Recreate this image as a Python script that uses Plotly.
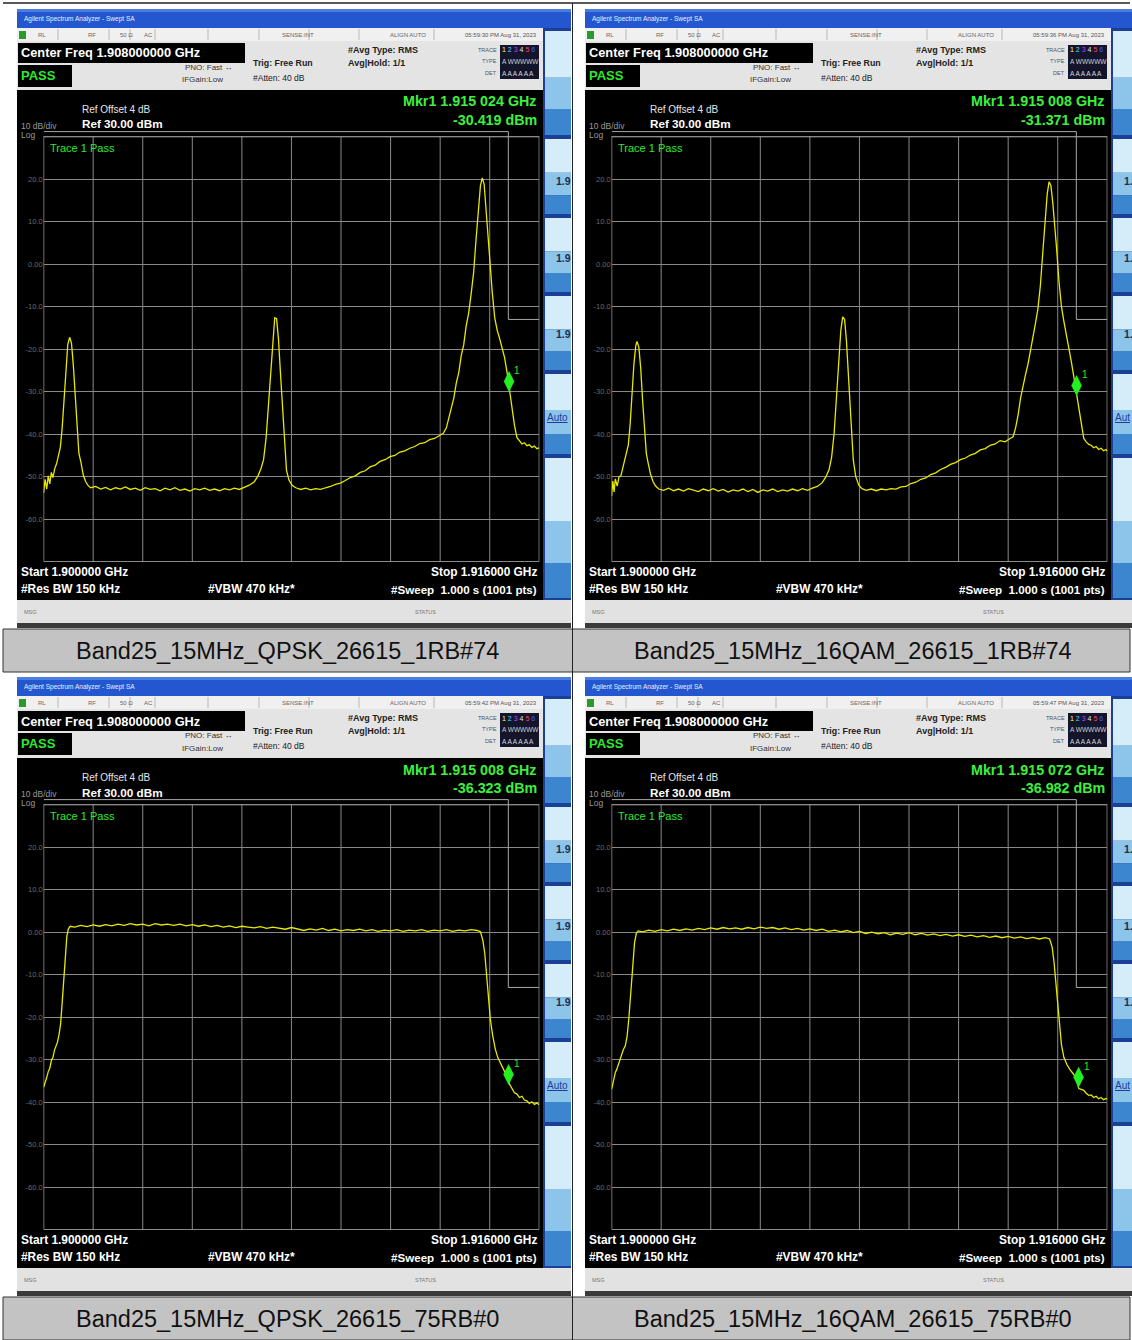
import plotly.graph_objects as go

W, H = 1132, 1340

# ---------------- data ----------------
START_MHZ, STOP_MHZ = 1900.0, 1916.0
REF_DBM, DB_DIV, N_DIV = 30.0, 10.0, 10
Y_TICKS = [30, 20, 10, 0, -10, -20, -30, -40, -50, -60]
Y_TICK_TEXT = ["", "20.0", "10.0", "0.00", "-10.0", "-20.0", "-30.0", "-40.0", "-50.0", "-60.0"]

LIMIT_FREQ = [1900.0, 1915.0, 1915.0, 1916.0]
LIMIT_DBM = [31.2, 31.2, -13.0, -13.0]

captions = ["Band25_15MHz_QPSK_26615_1RB#74", "Band25_15MHz_16QAM_26615_1RB#74",
            "Band25_15MHz_QPSK_26615_75RB#0", "Band25_15MHz_16QAM_26615_75RB#0"]
timestamps = ["05:59:30 PM Aug 31, 2023", "05:59:36 PM Aug 31, 2023",
              "05:59:42 PM Aug 31, 2023", "05:59:47 PM Aug 31, 2023"]
marker_freq_ghz = [1.915024, 1.915008, 1.915008, 1.915072]
marker_dbm = [-30.419, -31.371, -36.323, -36.982]

# Trace: QPSK 1RB#74 (MHz, dBm)
tl_freq = [1900.00, 1900.05, 1900.10, 1900.15, 1900.20, 1900.25, 1900.30, 1900.36, 1900.42, 1900.48,
           1900.54, 1900.60, 1900.66, 1900.72, 1900.78, 1900.84, 1900.90, 1900.96, 1901.02, 1901.08,
           1901.14, 1901.20, 1901.28, 1901.36, 1901.44, 1901.52, 1901.68, 1901.84, 1902.00, 1902.16,
           1902.32, 1902.48, 1902.64, 1902.80, 1902.96, 1903.12, 1903.28, 1903.44, 1903.60, 1903.76,
           1903.92, 1904.08, 1904.24, 1904.40, 1904.56, 1904.72, 1904.88, 1905.04, 1905.20, 1905.36,
           1905.52, 1905.68, 1905.84, 1906.00, 1906.16, 1906.32, 1906.48, 1906.64, 1906.80, 1906.92,
           1907.02, 1907.10, 1907.18, 1907.26, 1907.34, 1907.40, 1907.46, 1907.52, 1907.58, 1907.64,
           1907.72, 1907.78, 1907.84, 1907.92, 1908.02, 1908.14, 1908.30, 1908.46, 1908.62, 1908.78,
           1908.94, 1909.10, 1909.26, 1909.42, 1909.58, 1909.74, 1909.90, 1910.06, 1910.22, 1910.38,
           1910.54, 1910.70, 1910.86, 1911.02, 1911.18, 1911.34, 1911.50, 1911.66, 1911.82, 1911.98,
           1912.14, 1912.30, 1912.46, 1912.62, 1912.78, 1912.90, 1913.00, 1913.08, 1913.16, 1913.24,
           1913.32, 1913.40, 1913.48, 1913.56, 1913.64, 1913.72, 1913.80, 1913.88, 1913.96, 1914.04,
           1914.10, 1914.16, 1914.22, 1914.28, 1914.34, 1914.40, 1914.48, 1914.56, 1914.64, 1914.72,
           1914.80, 1914.88, 1914.96, 1915.04, 1915.12, 1915.20, 1915.28, 1915.36, 1915.44, 1915.52,
           1915.60, 1915.68, 1915.76, 1915.84, 1915.92, 1916.00]
tl_dbm = [-53.8, -50.6, -52.9, -49.8, -51.7, -49.0, -50.2, -48.1, -46.9, -45.2,
          -43.1, -38.5, -31.0, -23.5, -18.9, -17.2, -18.6, -23.8, -31.5, -39.5,
          -44.6, -46.4, -49.6, -51.2, -52.1, -52.6, -52.3, -52.9, -52.5, -53.1,
          -52.6, -52.9, -52.4, -53.0, -52.7, -53.2, -52.6, -53.0, -52.8, -53.3,
          -52.7, -53.1, -52.6, -53.2, -52.9, -53.4, -52.8, -53.1, -52.7, -53.2,
          -52.9, -53.3, -52.8, -53.1, -52.7, -53.0, -52.5, -52.0, -51.2, -49.8,
          -48.0, -46.0, -41.0, -33.0, -24.0, -17.0, -12.6, -12.8, -17.5, -25.0,
          -35.0, -42.0, -48.5, -50.8, -52.0, -52.6, -53.0, -52.7, -53.1, -52.8,
          -53.0, -52.6, -52.3, -51.8, -51.5, -50.9, -50.2, -49.8, -49.0, -48.6,
          -47.7, -47.3, -46.4, -46.0, -45.3, -45.0, -44.2, -43.9, -43.3, -42.9,
          -42.2, -42.0, -41.3, -41.0, -40.2, -39.8, -38.5, -36.0, -33.5, -31.5,
          -28.0, -25.5, -21.5, -19.0, -14.5, -11.5, -7.0, -2.0, 6.0, 14.0,
          18.5, 20.3, 18.8, 13.0, 6.5, 0.5, -6.5, -12.5, -15.5, -17.5,
          -19.5, -22.0, -25.5, -29.8, -34.5, -38.0, -40.8, -41.6, -42.3, -42.0,
          -42.7, -42.5, -43.1, -42.8, -43.4, -43.2]

# Trace: 16QAM 1RB#74
tr_freq = [1900.00, 1900.04, 1900.08, 1900.12, 1900.18, 1900.24, 1900.30, 1900.36, 1900.42, 1900.48,
           1900.54, 1900.60, 1900.66, 1900.72, 1900.78, 1900.82, 1900.88, 1900.94, 1901.00, 1901.06,
           1901.12, 1901.18, 1901.26, 1901.34, 1901.42, 1901.52, 1901.68, 1901.84, 1902.00, 1902.16,
           1902.32, 1902.48, 1902.64, 1902.80, 1902.96, 1903.12, 1903.28, 1903.44, 1903.60, 1903.76,
           1903.92, 1904.08, 1904.24, 1904.40, 1904.56, 1904.72, 1904.88, 1905.04, 1905.20, 1905.36,
           1905.52, 1905.68, 1905.84, 1906.00, 1906.16, 1906.32, 1906.48, 1906.64, 1906.80, 1906.92,
           1907.02, 1907.10, 1907.18, 1907.26, 1907.34, 1907.40, 1907.46, 1907.52, 1907.58, 1907.64,
           1907.72, 1907.80, 1907.88, 1907.98, 1908.08, 1908.22, 1908.38, 1908.54, 1908.70, 1908.86,
           1909.02, 1909.18, 1909.34, 1909.50, 1909.66, 1909.82, 1909.98, 1910.14, 1910.30, 1910.46,
           1910.62, 1910.78, 1910.94, 1911.10, 1911.26, 1911.42, 1911.58, 1911.74, 1911.90, 1912.06,
           1912.22, 1912.38, 1912.54, 1912.70, 1912.86, 1912.96, 1913.04, 1913.12, 1913.20, 1913.28,
           1913.36, 1913.44, 1913.52, 1913.60, 1913.68, 1913.76, 1913.84, 1913.92, 1914.00, 1914.06,
           1914.12, 1914.18, 1914.24, 1914.30, 1914.36, 1914.44, 1914.52, 1914.60, 1914.68, 1914.76,
           1914.84, 1914.92, 1915.00, 1915.08, 1915.16, 1915.24, 1915.32, 1915.40, 1915.48, 1915.56,
           1915.64, 1915.72, 1915.80, 1915.88, 1915.96, 1916.00]
tr_dbm = [-54.5, -51.0, -53.6, -50.5, -52.2, -50.0, -49.8, -48.0, -46.0, -44.5,
          -42.5, -37.5, -30.0, -23.5, -19.2, -18.2, -19.5, -24.5, -32.0, -39.0,
          -44.5, -46.8, -49.5, -51.2, -52.2, -52.9, -53.2, -52.7, -53.3, -52.9,
          -53.4, -52.8, -53.1, -53.5, -52.9, -53.3, -52.8, -53.4, -53.0, -53.6,
          -53.1, -53.4, -52.9, -53.5, -53.0, -53.7, -53.1, -53.4, -52.9, -53.5,
          -53.1, -53.4, -52.9, -53.3, -52.8, -53.2, -52.7, -52.3, -51.4, -50.0,
          -48.3, -45.5, -40.0, -31.5, -22.0, -15.5, -12.4, -13.0, -18.0, -26.0,
          -37.0, -46.0, -50.0, -52.0, -52.8, -53.2, -52.9, -53.3, -52.9, -53.1,
          -52.8, -52.9, -52.4, -52.3, -51.6, -51.3, -50.6, -50.3, -49.5, -49.1,
          -48.3, -47.8, -47.1, -46.7, -46.0, -45.6, -44.9, -44.5, -43.7, -43.4,
          -42.6, -42.3, -41.5, -41.8, -41.0, -40.6, -38.5, -35.5, -31.5, -28.5,
          -26.0, -23.5, -20.5, -17.5, -14.0, -10.5, -5.0, 3.0, 11.5, 16.5,
          19.4, 18.5, 14.5, 10.0, 4.0, -4.0, -10.0, -13.5, -16.5, -20.0,
          -23.0, -26.5, -30.0, -33.5, -37.5, -41.0, -41.8, -42.4, -42.6, -43.2,
          -42.9, -43.6, -43.3, -43.9, -43.6, -44.0]

# Trace: QPSK 75RB#0
bl_freq = [1900.00, 1900.05, 1900.10, 1900.15, 1900.20, 1900.25, 1900.30, 1900.35, 1900.40, 1900.45,
           1900.50, 1900.55, 1900.60, 1900.65, 1900.70, 1900.75, 1900.80, 1900.86, 1901.00, 1901.20,
           1901.40, 1901.60, 1901.80, 1902.00, 1902.20, 1902.40, 1902.60, 1902.80, 1903.00, 1903.20,
           1903.40, 1903.60, 1903.80, 1904.00, 1904.20, 1904.40, 1904.60, 1904.80, 1905.00, 1905.20,
           1905.40, 1905.60, 1905.80, 1906.00, 1906.20, 1906.40, 1906.60, 1906.80, 1907.00, 1907.20,
           1907.40, 1907.60, 1907.80, 1908.00, 1908.20, 1908.40, 1908.60, 1908.80, 1909.00, 1909.20,
           1909.40, 1909.60, 1909.80, 1910.00, 1910.20, 1910.40, 1910.60, 1910.80, 1911.00, 1911.20,
           1911.40, 1911.60, 1911.80, 1912.00, 1912.20, 1912.40, 1912.60, 1912.80, 1913.00, 1913.20,
           1913.40, 1913.60, 1913.80, 1914.00, 1914.10, 1914.18, 1914.24, 1914.30, 1914.36, 1914.42,
           1914.50, 1914.58, 1914.66, 1914.76, 1914.86, 1914.96, 1915.04, 1915.12, 1915.20, 1915.28,
           1915.36, 1915.44, 1915.52, 1915.60, 1915.68, 1915.76, 1915.84, 1915.92, 1916.00]
bl_dbm = [-36.5, -35.0, -34.2, -32.8, -32.0, -30.2, -29.5, -27.8, -27.0, -25.8,
          -24.0, -21.5, -16.5, -10.5, -5.0, -1.0, 0.8, 1.4, 1.2, 1.6,
          1.3, 1.7, 1.4, 1.8, 1.5, 1.9, 1.6, 2.0, 1.7, 1.9,
          1.5, 2.0, 1.7, 1.9, 1.6, 1.9, 1.5, 1.8, 1.4, 1.7,
          1.3, 1.6, 1.2, 1.5, 1.1, 1.4, 1.2, 1.0, 1.3, 0.9,
          1.2, 1.0, 0.7, 1.1, 0.8, 0.4, 0.8, 0.5, 0.9, 0.4,
          0.7, 0.3, 0.6, 0.4, 0.7, 0.3, 0.6, 0.2, 0.5, 0.3,
          0.6, 0.2, 0.5, 0.3, 0.6, 0.2, 0.5, 0.3, 0.6, 0.2,
          0.5, 0.3, 0.6, 0.4, 0.1, -2.0, -5.0, -10.5, -15.5, -20.5,
          -24.5, -27.5, -29.5, -31.0, -32.5, -34.0, -35.8, -36.7, -37.8, -38.1,
          -38.9, -38.6, -39.5, -39.7, -40.3, -39.9, -40.5, -40.2, -40.6]

# Trace: 16QAM 75RB#0
br_freq = [1900.00, 1900.04, 1900.08, 1900.12, 1900.16, 1900.20, 1900.26, 1900.32, 1900.38, 1900.44,
           1900.50, 1900.56, 1900.62, 1900.68, 1900.74, 1900.80, 1900.86, 1901.00, 1901.20, 1901.40,
           1901.60, 1901.80, 1902.00, 1902.20, 1902.40, 1902.60, 1902.80, 1903.00, 1903.20, 1903.40,
           1903.60, 1903.80, 1904.00, 1904.20, 1904.40, 1904.60, 1904.80, 1905.00, 1905.20, 1905.40,
           1905.60, 1905.80, 1906.00, 1906.20, 1906.40, 1906.60, 1906.80, 1907.00, 1907.20, 1907.40,
           1907.60, 1907.80, 1908.00, 1908.20, 1908.40, 1908.60, 1908.80, 1909.00, 1909.20, 1909.40,
           1909.60, 1909.80, 1910.00, 1910.20, 1910.40, 1910.60, 1910.80, 1911.00, 1911.20, 1911.40,
           1911.60, 1911.80, 1912.00, 1912.20, 1912.40, 1912.60, 1912.80, 1913.00, 1913.20, 1913.40,
           1913.60, 1913.80, 1914.00, 1914.14, 1914.22, 1914.28, 1914.34, 1914.40, 1914.46, 1914.52,
           1914.60, 1914.70, 1914.80, 1914.90, 1915.00, 1915.08, 1915.16, 1915.24, 1915.32, 1915.40,
           1915.48, 1915.56, 1915.64, 1915.72, 1915.80, 1915.88, 1915.96, 1916.00]
br_dbm = [-37.0, -35.5, -34.6, -33.0, -32.4, -31.5, -30.6, -29.0, -27.6, -26.8,
          -24.5, -20.0, -13.5, -7.0, -2.5, -0.2, 0.3, 0.1, 0.5, 0.2,
          0.6, 0.3, 0.7, 0.4, 0.8, 0.5, 0.9, 0.6, 1.0, 0.7,
          1.1, 0.8, 1.0, 0.7, 1.1, 0.8, 1.2, 0.9, 1.1, 0.7,
          1.0, 0.6, 0.9, 0.5, 0.8, 0.4, 0.7, 0.2, 0.5, 0.1,
          0.4, -0.1, 0.2, -0.3, 0.0, -0.4, -0.1, -0.6, -0.2, -0.5,
          -0.1, -0.6, -0.3, -0.7, -0.4, -0.8, -0.5, -0.9, -0.6, -1.0,
          -0.7, -1.1, -0.8, -1.2, -0.9, -1.3, -1.0, -1.4, -1.1, -1.5,
          -1.2, -1.6, -1.3, -1.6, -3.5, -7.0, -12.0, -17.5, -22.5, -26.5,
          -29.5, -31.2, -32.4, -33.3, -34.6, -36.8, -37.0, -37.2, -37.9, -38.4,
          -38.3, -38.9, -38.6, -39.2, -38.9, -39.4, -39.1, -39.3]

trace_freqs = [tl_freq, tr_freq, bl_freq, br_freq]
trace_levels = [tl_dbm, tr_dbm, bl_dbm, br_dbm]

# ---------------- styling / layout helpers ----------------
FONT = "Liberation Sans, Arial, sans-serif"
GREEN = "#3cf03c"
YELLOW = "#e8e800"
GRID = "#8a8a8a"

shapes, annotations = [], []


def P(x):
    return x / W


def Q(y):
    return 1 - y / H


def rect(x0, y0, x1, y1, fill, line=None, lw=0):
    shapes.append(dict(type="rect", xref="paper", yref="paper", x0=P(x0), x1=P(x1), y0=Q(y1), y1=Q(y0),
                       fillcolor=fill, line=dict(width=lw, color=line or fill), layer="below"))


def seg(x0, y0, x1, y1, color, lw=1):
    shapes.append(dict(type="line", xref="paper", yref="paper", x0=P(x0), x1=P(x1), y0=Q(y0), y1=Q(y1),
                       line=dict(width=lw, color=color), layer="below"))


def text(x, y, s, size, color, anchor="left", bold=False):
    annotations.append(dict(xref="paper", yref="paper", x=P(x), y=Q(y), text=f"<b>{s}</b>" if bold else s,
                            showarrow=False, xanchor=anchor, yanchor="middle",
                            font=dict(size=size, color=color, family=FONT)))


# plot-area geometry (left/top panel), in pixels
PX0, PX1 = 43.6, 539.3
PY_TOP, PY_BOT = 136.7, 561.7   # y of REF (30 dBm) and of REF - 10 div
Y_MAX = 31.6
px_per_db = (PY_BOT - PY_TOP) / (N_DIV * DB_DIV)
offsets = [(0, 0), (568, 0), (0, 668), (568, 668)]

seg(3, 3, 1130, 3, "#222222", 1.5)

fig = go.Figure()
layout_axes = {}

for i, (dx, dy) in enumerate(offsets):
    right = dx > 0
    # --- screenshot chrome ---
    rect(17 + dx, 9 + dy, 571 + dx, 28 + dy, "#2457cf")
    rect(17 + dx, 9 + dy, 571 + dx, 12 + dy, "#4a7ee0")
    text(22 + dx, 19 + dy, "Agilent Spectrum Analyzer - Swept SA", 6.5, "#e8f0ff")
    rect(17 + dx, 28 + dy, 543 + dx, 41 + dy, "#f0f0f0")
    rect(19 + dx, 31 + dy, 26 + dx, 39 + dy, "#2a9a2a")
    for sx in [58, 109, 130, 155, 208, 259, 309, 359, 434]:
        seg(sx + dx, 29 + dy, sx + dx, 40 + dy, "#b8b8b8", 1)
    for sx, s in [(36, "RL"), (86, "RF"), (118, "50 Ω"), (142, "AC"), (280, "SENSE:INT"), (388, "ALIGN AUTO")]:
        text(sx + dx, 35 + dy, s, 6, "#666666")
    text(539 + dx, 35 + dy, timestamps[i], 6, "#555555", anchor="right")
    rect(17 + dx, 41 + dy, 543 + dx, 90 + dy, "#e4e4e4")
    rect(18 + dx, 43 + dy, 245 + dx, 63 + dy, "#000000")
    rect(18 + dx, 65 + dy, 72 + dx, 87 + dy, "#000000")
    text(19 + dx, 53 + dy, "Center Freq 1.908000000 GHz", 12.8, "#ffffff", bold=True)
    text(19 + dx, 75.5 + dy, "PASS", 13, "#2ee82e", bold=True)
    text(183 + dx, 67 + dy, "PNO: Fast ↔", 8, "#333333")
    text(180 + dx, 80 + dy, "IFGain:Low", 8, "#333333")
    text(251 + dx, 63 + dy, "Trig: Free Run", 8.8, "#222222", bold=True)
    text(251 + dx, 78 + dy, "#Atten: 40 dB", 8.5, "#222222")
    text(346 + dx, 50 + dy, "#Avg Type: RMS", 9, "#222222", bold=True)
    text(346 + dx, 63 + dy, "Avg|Hold: 1/1", 9, "#222222", bold=True)
    rect(500 + dx, 45 + dy, 539 + dx, 79 + dy, "#14142a")
    for yy, lab in [(50, "TRACE"), (61, "TYPE"), (73, "DET")]:
        text(499 + dx, yy + dy, lab, 5.5, "#555555", anchor="right")
    text(500 + dx, 50 + dy, '<span style="color:#ffff40">1</span> <span style="color:#40e0ff">2</span> '
                            '<span style="color:#c040ff">3</span> <span style="color:#e0e0e0">4</span> '
                            '<span style="color:#ff4060">5</span> <span style="color:#4060ff">6</span>', 7, "#ffffff")
    text(500 + dx, 61 + dy, "A WWWWW", 6.5, "#cfcfcf")
    text(500 + dx, 73 + dy, "A A A A A A", 6.5, "#dcdcdc")

    # black screen
    rect(17 + dx, 90 + dy, 543 + dx, 600 + dy, "#000000")

    # softkeys
    rect(543 + dx, 28 + dy, 571 + dx, 600 + dy, "#1b3f94")
    for (b0, b1) in [(31, 135), (139, 214), (218, 292), (296, 370), (374, 454), (458, 598)]:
        h = b1 - b0
        rect(545 + dx, b0 + dy, 571 + dx, b0 + 0.45 * h + dy, "#d4edf8")
        rect(545 + dx, b0 + 0.45 * h + dy, 571 + dx, b0 + 0.75 * h + dy, "#8cc4ea")
        rect(545 + dx, b0 + 0.75 * h + dy, 571 + dx, b1 + dy, "#3b86cf")
    for yy in [181, 258, 334]:
        text(554 + dx, yy + dy, "1." if right else "1.9", 10.5, "#1e2d50", bold=True)
    text(545 + dx, 417 + dy, "<u>Aut</u>" if right else "<u>Auto</u>", 10, "#1f3c9c")

    # msg bar
    rect(17 + dx, 600 + dy, 571 + dx, 623 + dy, "#e2e2e2")
    rect(17 + dx, 623 + dy, 571 + dx, 628 + dy, "#3a3a3a")
    text(22 + dx, 612 + dy, "MSG", 5.5, "#777777")
    text(413 + dx, 612 + dy, "STATUS", 5.5, "#777777")

    # black-area texts
    mf = f"{marker_freq_ghz[i]:.6f}"
    text(539 + dx, 101.5 + dy, f"Mkr1 {mf[:5]} {mf[5:]} GHz", 14.3, GREEN, anchor="right", bold=True)
    text(539 + dx, 120 + dy, f"{marker_dbm[i]:.3f} dBm", 14.3, GREEN, anchor="right", bold=True)
    text(80 + dx, 109.5 + dy, "Ref Offset 4 dB", 10, "#e6e6e6")
    text(19 + dx, 126 + dy, "10 dB/div", 8.5, "#9a9a9a")
    text(80 + dx, 124 + dy, f"Ref {REF_DBM:.2f} dBm", 11.7, "#ffffff", bold=True)
    text(19 + dx, 134.5 + dy, "Log", 8.5, "#9a9a9a")
    text(48 + dx, 148 + dy, "Trace 1 Pass", 11, "#2ee82e")
    text(19 + dx, 571.5 + dy, f"Start {START_MHZ / 1000:.6f} GHz", 11.9, "#ffffff", bold=True)
    text(539 + dx, 571.5 + dy, f"Stop {STOP_MHZ / 1000:.6f} GHz", 11.9, "#ffffff", anchor="right", bold=True)
    text(19 + dx, 589 + dy, "#Res BW 150 kHz", 11.9, "#ffffff", bold=True)
    text(206 + dx, 589 + dy, "#VBW 470 kHz*", 11.9, "#ffffff", bold=True)
    text(539 + dx, 589 + dy, "#Sweep  1.000 s (1001 pts)", 11.6, "#ffffff", anchor="right", bold=True)

    # --- subplot axes ---
    n = "" if i == 0 else str(i + 1)
    xd = [P(PX0 + dx), P(PX1 + dx)]
    y_top_px = PY_TOP - (Y_MAX - REF_DBM) * px_per_db + dy
    yd = [Q(PY_BOT + dy), Q(y_top_px)]
    y_min = REF_DBM - N_DIV * DB_DIV
    layout_axes[f"xaxis{n}"] = dict(domain=xd, range=[START_MHZ, STOP_MHZ], showgrid=False, zeroline=False,
                                    showticklabels=False, showline=False, fixedrange=True, anchor=f"y{n}")
    layout_axes[f"yaxis{n}"] = dict(domain=yd, range=[y_min, Y_MAX], tickvals=Y_TICKS, ticktext=Y_TICK_TEXT,
                                    showgrid=True, gridcolor=GRID, gridwidth=1, zeroline=False, showline=False,
                                    ticks="", tickfont=dict(size=7.5, color="#6a6a6a", family=FONT),
                                    fixedrange=True, anchor=f"x{n}")
    xr, yr = f"x{n}", f"y{n}"
    step = (STOP_MHZ - START_MHZ) / N_DIV
    for k in range(1, N_DIV):
        f = START_MHZ + k * step
        shapes.append(dict(type="line", xref=xr, yref=yr, x0=f, x1=f, y0=y_min, y1=REF_DBM,
                           line=dict(color=GRID, width=1), layer="below"))
    shapes.append(dict(type="rect", xref=xr, yref=yr, x0=START_MHZ, x1=STOP_MHZ, y0=y_min, y1=REF_DBM,
                       line=dict(color="#b8b8b8", width=1.2), fillcolor="rgba(0,0,0,0)", layer="below"))

    # limit line
    fig.add_trace(go.Scatter(x=LIMIT_FREQ, y=LIMIT_DBM, mode="lines", line=dict(color="#a8a8a8", width=1),
                             xaxis=xr, yaxis=yr, showlegend=False, hoverinfo="skip"))
    # spectrum trace
    fig.add_trace(go.Scatter(x=trace_freqs[i], y=trace_levels[i], mode="lines",
                             line=dict(color=YELLOW, width=1.3), xaxis=xr, yaxis=yr, showlegend=False))
    # marker
    mx = marker_freq_ghz[i] * 1000
    fig.add_trace(go.Scatter(x=[mx], y=[marker_dbm[i]], mode="markers",
                             marker=dict(symbol="diamond-tall", size=15, color="#22ee22", angle=180, standoff=12),
                             xaxis=xr, yaxis=yr, showlegend=False, cliponaxis=False))
    annotations.append(dict(xref=xr, yref=yr, x=mx, y=marker_dbm[i], text="1", showarrow=False,
                            xshift=8, yshift=23, font=dict(size=10, color="#22ee22", family=FONT)))

# caption rows
for cy0, cy1 in [(629, 672), (1297, 1340)]:
    rect(3, cy0, 1130, cy1, "#c3c3c3", line="#333333", lw=1)
for i, (dx, dy) in enumerate(offsets):
    cx = 287 if dx == 0 else 853
    text(cx, 651 + dy, captions[i], 23.5, "#111111", anchor="center")
seg(572.5, 3, 572.5, 1340, "#222222", 1)

fig.update_layout(width=W, height=H, autosize=False, margin=dict(l=0, r=0, t=0, b=0),
                  paper_bgcolor="#ffffff", plot_bgcolor="#000000", shapes=shapes, annotations=annotations,
                  hovermode=False, **layout_axes)
fig.write_html("out.html", config={"displayModeBar": False},
               post_script="document.body.style.margin='0px';document.body.style.overflow='hidden';")
